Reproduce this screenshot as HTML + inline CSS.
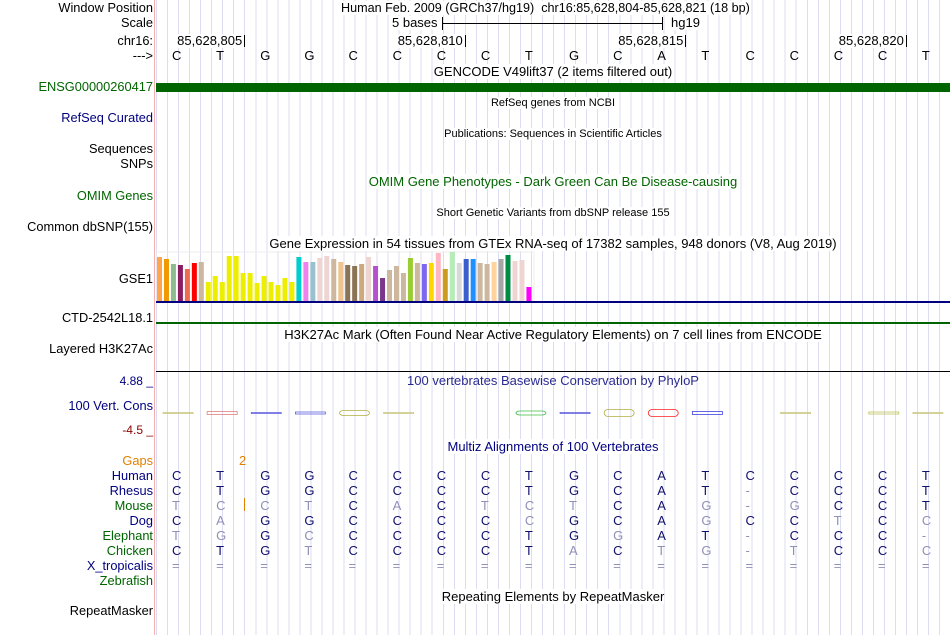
<!DOCTYPE html>
<html><head><meta charset="utf-8">
<style>
html,body{margin:0;padding:0;background:#fff}
body{width:950px;height:635px;position:relative;overflow:hidden;font-family:"Liberation Sans",sans-serif;font-size:13px;color:#000}
.t{position:absolute;white-space:nowrap;line-height:14px}
.l{position:absolute;right:797px;white-space:nowrap;line-height:14px;text-align:right;font-size:12.8px}
.c{position:absolute;left:156px;width:794px;text-align:center;white-space:nowrap;line-height:14px}
.s{font-size:11px}
#grid{position:absolute;left:156px;top:0;width:794px;height:635px;background:repeating-linear-gradient(to right,#dcdcf2 0,#dcdcf2 1px,transparent 1px,transparent 11.03px)}
</style></head><body>
<div id="grid"></div>
<div style="position:absolute;left:154px;top:0;width:1px;height:635px;background:#f4b0b0"></div>

<div class="l" style="top:1px">Window Position</div>
<div class="t" style="left:341px;top:1px;background:#fff;font-size:12.6px">Human Feb. 2009 (GRCh37/hg19)&nbsp; chr16:85,628,804-85,628,821 (18 bp)</div>
<div class="l" style="top:16px">Scale</div>
<div class="t" style="left:392px;top:16px;background:#fff">5 bases</div>
<div style="position:absolute;left:442px;top:23px;width:221px;height:1px;background:#000"></div>
<div style="position:absolute;left:442px;top:17px;width:1px;height:13px;background:#000"></div>
<div style="position:absolute;left:662px;top:17px;width:1px;height:13px;background:#000"></div>
<div class="t" style="left:671px;top:16px;background:#fff">hg19</div>
<div class="l" style="top:34px">chr16:</div>
<div class="l" style="top:49px">---&gt;</div>
<div id="ruler"></div>

<div class="c" style="top:65px"><span style="background:#fff">GENCODE V49lift37 (2 items filtered out)</span></div>
<div class="l" style="top:80px;color:#006400">ENSG00000260417</div>
<div style="position:absolute;left:156px;top:83px;width:794px;height:9px;background:#006400"></div>
<div class="c s" style="top:96px"><span style="background:#fff">RefSeq genes from NCBI</span></div>
<div class="l" style="top:111px;color:#000080">RefSeq Curated</div>
<div class="c s" style="top:127px"><span style="background:#fff">Publications: Sequences in Scientific Articles</span></div>
<div class="l" style="top:142px">Sequences</div>
<div class="l" style="top:157px">SNPs</div>
<div class="c" style="top:175px;color:#006400"><span style="background:#fff">OMIM Gene Phenotypes - Dark Green Can Be Disease-causing</span></div>
<div class="l" style="top:189px;color:#006400">OMIM Genes</div>
<div class="c s" style="top:206px"><span style="background:#fff">Short Genetic Variants from dbSNP release 155</span></div>
<div class="l" style="top:220px">Common dbSNP(155)</div>
<div class="c" style="top:237px"><span style="background:#fff">Gene Expression in 54 tissues from GTEx RNA-seq of 17382 samples, 948 donors (V8, Aug 2019)</span></div>
<div class="l" style="top:272px">GSE1</div>
<svg id="gtex" style="position:absolute;left:156px;top:250px" width="380" height="52"></svg>
<div style="position:absolute;left:156px;top:301px;width:794px;height:2px;background:#000080"></div>
<div class="l" style="top:311px">CTD-2542L18.1</div>
<div style="position:absolute;left:156px;top:322px;width:794px;height:2px;background:#006400"></div>
<div class="c" style="top:328px"><span style="background:#fff">H3K27Ac Mark (Often Found Near Active Regulatory Elements) on 7 cell lines from ENCODE</span></div>
<div class="l" style="top:342px">Layered H3K27Ac</div>
<div style="position:absolute;left:156px;top:371px;width:794px;height:1px;background:#000"></div>
<div class="l" style="top:374px;color:#000080;font-size:12px">4.88 _</div>
<div class="c" style="top:374px;color:#2a2a90">100 vertebrates Basewise Conservation by PhyloP</div>
<div class="l" style="top:399px;color:#000080">100 Vert. Cons</div>
<div class="l" style="top:423px;color:#8b0000;font-size:12px">-4.5 _</div>
<svg id="cons" style="position:absolute;left:156px;top:405px" width="794" height="20"></svg>
<div class="c" style="top:440px;color:#000080"><span style="background:#fff">Multiz Alignments of 100 Vertebrates</span></div>
<div class="l" style="top:454px;color:#e08000">Gaps</div>
<div class="t" style="left:239px;top:454px;color:#e08000">2</div>
<div style="position:absolute;left:244px;top:498px;width:1px;height:13px;background:#e08000"></div>
<div id="align"></div>
<div class="c" style="top:590px"><span style="background:#fff">Repeating Elements by RepeatMasker</span></div>
<div class="l" style="top:604px">RepeatMasker</div>

<script>
var bases = "CTGGCCCCTGCATCCCCT".split("");
var rulerLabels = ["85,628,805","85,628,810","85,628,815","85,628,820"];
var rulerIdx = [1,6,11,16];
var species = ["Human","Rhesus","Mouse","Dog","Elephant","Chicken","X_tropicalis","Zebrafish"];
var speciesColor = ["#000080","#000080","#006400","#000080","#006400","#006400","#000080","#006400"];
var alignRows = ["CTGGCCCCTGCATCCCCT","CTGGCCCCTGCAT-CCCT","TCCTCACTCTCAG-GCCT","CAGGCCCCCGCAGCCTCC","TGGCCCCCTGGAT-CCC-","CTGTCCCCTACTG-TCCC","==================",""];
var gtexValues = [44,42,37,36,32,38,39,19,25,19,45,45,28,28,18,25,19,16,23,19,44,39,39,43,45,42,39,36,35,37,44,35,23,31,35,28,43,38,37,38,48,32,49,38,42,42,38,37,39,42,46,40,41,14];
var gtexColors = ["#FFA54F","#EE9A00","#8FBC8F","#8B1C62","#EE6A50","#FF0000","#CDB79E","#EEEE00","#EEEE00","#EEEE00","#EEEE00","#EEEE00","#EEEE00","#EEEE00","#EEEE00","#EEEE00","#EEEE00","#EEEE00","#EEEE00","#EEEE00","#00CDCD","#EE82EE","#9AC0CD","#EED5D2","#EED5D2","#CDB79E","#EEC591","#8B7355","#8B7355","#CDAA7D","#EED5D2","#B452CD","#7A378B","#CDB79E","#CDB79E","#CDB79E","#9ACD32","#CDB79E","#7B68EE","#FFD700","#FFB6C1","#CD9B1D","#B4EEB4","#D9D9D9","#3A5FCD","#1E90FF","#CDB79E","#CDB79E","#FFD39B","#A6A6A6","#008B45","#EED5D2","#EED5D2","#FF00FF"];
var consIdx = [0,1,2,3,4,5,8,9,10,11,12,14,16,17];
var consColor = ["#c8c880","#e08080","#6060e0","#6060e0","#b0b040","#c8c880","#40c040","#6060e0","#b0b040","#ff2020","#4040e0","#c8c880","#c0c060","#c8c880"];
var consHeight = [1,3,1,2,5,1,4,1,7,7,3,1,2,1];

var x0 = 156, step = 44.11;
function bx(i){ return x0 + step*(i+0.5); }
function hY(v){ return 51 - v; }

var ruler = document.getElementById('ruler');
bases.forEach(function(b,i){
  var d=document.createElement('div');d.className='t';
  d.style.left=(bx(i)-6)+'px';d.style.top='49px';d.textContent=b;
  
  
  ruler.appendChild(d);
});
rulerLabels.forEach(function(lbl,k){
  var x=x0+step*(rulerIdx[k]+1);
  var d=document.createElement('div');d.className='t';
  d.style.right=(950-x+2)+'px';d.style.top='34px';d.style.background='#fff';d.textContent=lbl;
  
  
  ruler.appendChild(d);
  var tk=document.createElement('div');
  tk.style.cssText='position:absolute;top:35px;width:1px;height:12px;background:#000;left:'+x+'px';
  
  
  ruler.appendChild(tk);
});

var NS='http://www.w3.org/2000/svg';
var g=document.getElementById('gtex');
var bg=document.createElementNS(NS,'rect');
bg.setAttribute('x',0);bg.setAttribute('y',2);bg.setAttribute('width',378);bg.setAttribute('height',49);
bg.setAttribute('fill','none');bg.setAttribute('stroke','#eee');
g.appendChild(bg);
gtexValues.forEach(function(v,i){
  var r=document.createElementNS(NS,'rect');
  r.setAttribute('x',1+i*6.97);r.setAttribute('width',5);
  r.setAttribute('y',hY(v));r.setAttribute('height',v);
  r.setAttribute('fill',gtexColors[i]);
  
  
  g.appendChild(r);
});

var cs=document.getElementById('cons');
consIdx.forEach(function(ix,k){
  var h=consHeight[k];
  var r=document.createElementNS(NS,'rect');
  r.setAttribute('x',bx(ix)-x0-15);r.setAttribute('width',30);
  r.setAttribute('y',8-h/2);r.setAttribute('height',Math.max(1,h));
  r.setAttribute('fill','none');r.setAttribute('stroke',consColor[k]);r.setAttribute('stroke-width',0.8);
  r.setAttribute('rx',h>3?4:0);
  
  
  cs.appendChild(r);
});

var al=document.getElementById('align');
species.forEach(function(sp,r){
  var y=469+r*15;
  var l=document.createElement('div');l.className='l';l.style.top=y+'px';l.style.color=speciesColor[r];l.textContent=sp;
  
  
  al.appendChild(l);
  alignRows[r].split('').forEach(function(b,i){
    var d=document.createElement('div');d.className='t';
    d.style.left=(bx(i)-6)+'px';d.style.top=y+'px';d.textContent=b;
    var match = (b===bases[i]) && r>0 || r===0;
    d.style.color = (b==='='||b==='-'||!match)?'#9090b8':'#101070';
    
    
    al.appendChild(d);
  });
});
</script>
</body></html>
